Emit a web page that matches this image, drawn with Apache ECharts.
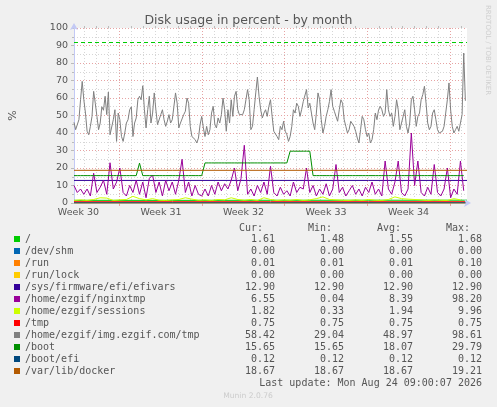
<!DOCTYPE html>
<html>
<head>
<meta charset="utf-8">
<title>Disk usage in percent - by month</title>
<script src="https://cdn.jsdelivr.net/npm/echarts@6/dist/echarts.min.js"></script>
<style>
  html, body { margin: 0; padding: 0; background: #f0f0f0; }
  #chart { width: 497px; height: 407px; }
</style>
</head>
<body>
<div id="chart"></div>
<script>
// time axis is in hours from the left edge of the graph (munin month view)
const spanHours = 800;
const weekStarts = [93, 261, 429, 597, 765];
const weekLabelHours = [9, 177, 345, 513, 681];
const weekLabels = ["Week 30", "Week 31", "Week 32", "Week 33", "Week 34"];
const firstMidnight = 21;

const names = [
  "/", "/dev/shm", "/run", "/run/lock", "/sys/firmware/efi/efivars",
  "/home/ezgif/nginxtmp", "/home/ezgif/sessions", "/tmp",
  "/home/ezgif/img.ezgif.com/tmp", "/boot", "/boot/efi", "/var/lib/docker"
];
const colors = [
  "#00cc00", "#0066b3", "#ff8000", "#ffcc00", "#330099", "#990099",
  "#ccff00", "#ff0000", "#808080", "#008f00", "#00487d", "#b35a00"
];

// legend statistics as printed by munin
const curValues = ["1.61", "0.00", "0.01", "0.00", "12.90", "6.55", "1.82", "0.75", "58.42", "15.65", "0.12", "18.67"];
const minValues = ["1.48", "0.00", "0.01", "0.00", "12.90", "0.04", "0.33", "0.75", "29.04", "15.65", "0.12", "18.67"];
const avgValues = ["1.55", "0.00", "0.01", "0.00", "12.90", "8.39", "1.94", "0.75", "48.97", "18.07", "0.12", "18.67"];
const maxValues = ["1.68", "0.00", "0.10", "0.00", "12.90", "98.20", "9.96", "0.75", "98.61", "29.79", "0.12", "19.21"];

const warningLevel = 92;

// flat-ish series, one value every 200h
const rootValues = [1.52, 1.50, 1.55, 1.58, 1.61];
const devShmValues = [0, 0, 0, 0, 0];
const runValues = [0.01, 0.01, 0.01, 0.01, 0.01];
const runLockValues = [0, 0, 0, 0, 0];
const efivarsValues = [12.9, 12.9, 12.9, 12.9, 12.9];
const tmpValues = [0.75, 0.75, 0.75, 0.75, 0.75];
const bootEfiValues = [0.12, 0.12, 0.12, 0.12, 0.12];
const dockerValues = [18.67, 18.67, 18.67, 18.67, 18.67];

// one value every 20/3 h
const nginxtmpValues = [
  10, 6, 8, 5, 8, 4, 17, 6, 9, 13, 5, 23, 8, 12, 20, 6, 4, 10, 6, 13,
  5, 12, 3, 14, 16, 6, 12, 4, 13, 7, 12, 5, 13, 25, 6, 12, 4, 10, 5, 4,
  8, 4, 10, 5, 12, 7, 11, 8, 13, 20, 7, 14, 33,
  5, 8, 4, 10, 6, 12, 5, 21, 6, 4, 9, 5, 7, 4, 12, 6, 9, 8, 20, 6,
  10, 4, 8, 5, 11, 4, 8, 22, 6, 9, 4, 7, 10, 5, 8, 4, 9, 6, 12, 5,
  8, 4, 24, 8, 5, 12, 24, 6, 4, 8, 40, 10, 24, 6, 4, 9, 5, 22, 6, 4,
  8, 20, 3, 8, 5, 24, 7
];

// one value every 40/3 h
const sessionsValues = [
  1.5, 1.8, 1.5, 2, 3, 2.8, 1.5, 1.8, 2, 3.8, 2.5, 1.8, 2.5, 1.6, 1.5,
  1.8, 2, 3, 2.2, 1.6, 1.8, 1.5, 2, 1.8, 3, 2, 1.6,
  2, 1.5, 3, 2, 1.5, 1.8, 1.6, 2, 1.5, 1.8, 2.5, 3.5, 2, 1.8, 1.6,
  1.5, 1.8, 1.5, 2, 1.6, 1.5, 2, 3.5, 2.5, 2.2, 2, 1.8, 1.5, 1.8, 1.6,
  1.5, 2.5, 1.8
];

// one value every 10/3 h
const imgTmpValues = [
  46.1, 41.9, 41.5, 47.6, 59, 69.5, 59, 51.4, 41, 39,
  43.8, 49.5, 63.8, 57, 49.5, 41.9, 45.7, 55, 53, 61,
  50.5, 63.4, 39, 38, 47.6, 53.3, 35.2, 51.4, 47.6, 38,
  35.2, 40, 45.7, 47.6, 53.3, 55, 38, 45.7, 48.6, 59,
  61, 59, 67, 53.3, 42.9, 53.3, 61, 45.7, 51.4, 62.9,
  53.3, 44.8, 45.7, 50.5, 53.3, 47.6, 43.8, 46.7, 50.5, 45.7,
  47.6, 55, 62.9, 57, 42.9, 45.7, 46.7, 50.5, 52.4, 60,
  57, 43.8, 38, 39, 36.2, 34.3, 37.1, 44.8, 49.5, 42.9,
  38, 43.8, 39, 41.9, 51.4, 55.2, 44.8, 42.9, 48.6, 45.7,
  50.5, 60, 53.3, 41, 53.3, 45.7, 59, 49.5, 61, 63.8,
  53.3, 50.5, 51.4, 50.5, 53.3,
  59, 64.8, 59, 41.9, 43.8, 53.3, 62.9, 72, 61, 53.3,
  48.6, 51.4, 53.3, 49.5, 55.2, 59, 49.5, 41, 40, 38,
  36.2, 43.8, 41.9, 46.7, 41, 39, 35.2, 38, 43.8, 53.3,
  51.4, 57, 55.2, 49.5, 53.3, 58, 59, 64.8, 54.3, 57,
  51.4, 45.7, 41.9, 51.4, 62.9, 59, 47.6, 40, 43.8, 49.5,
  53.3, 58, 64.8, 55.2, 52.4, 49.5, 46.7, 53.3, 59, 57,
  47.6, 43.8, 40, 41.9, 46.7, 47.6, 43.8, 41, 37.1, 34.3,
  41.9, 49.5, 47.6, 41.9, 38, 40, 34.3, 36.2, 41.9, 51.4,
  47.6, 53.3, 55.2, 53.3, 49.5, 51.4, 64.8, 53.3, 49.5, 51.4,
  43.8, 49.5, 59, 53.3, 41.9, 45.7, 49.5, 53.3, 43.8, 40,
  45.7, 59, 61, 53.3, 43.8, 49.5, 51.4, 59, 61.9, 66.7,
  57, 45.7, 41.9, 43.8, 51.4, 53.3, 47.6, 41.9, 40, 39,
  41, 43.8, 51.4, 59, 68.6, 53.3, 43.8, 40, 41.9, 43.8,
  41, 45.7, 50.5, 85.7, 58.4
];

// one value every 20/3 h
const bootValues = [
  15.65, 15.65, 15.65, 15.65, 15.65, 15.65, 15.65, 15.65, 15.65, 15.65,
  15.65, 15.65, 15.65, 15.65, 15.65, 15.65, 15.65, 15.65, 15.65, 15.65,
  22.8,
  15.65, 15.65, 15.65, 15.65, 15.65, 15.65, 15.65, 15.65, 15.65, 15.65,
  15.65, 15.65, 15.65, 15.65, 15.65, 15.65, 15.65, 15.65, 15.65,
  22.9, 22.9, 22.9, 22.9, 22.9, 22.9, 22.9, 22.9, 22.9, 22.9, 22.9, 22.9, 22.9,
  22.9, 22.9, 22.9, 22.9, 22.9, 22.9, 22.9, 22.9, 22.9, 22.9, 22.9, 22.9, 22.9,
  29.6, 29.6, 29.6, 29.6, 29.6, 29.6, 29.6,
  15.65, 15.65, 15.65, 15.65, 15.65, 15.65, 15.65, 15.65, 15.65, 15.65,
  15.65, 15.65, 15.65, 15.65, 15.65, 15.65, 15.65, 15.65, 15.65, 15.65,
  15.65, 15.65, 15.65, 15.65, 15.65, 15.65, 15.65, 15.65, 15.65, 15.65,
  15.65, 15.65, 15.65, 15.65, 15.65, 15.65, 15.65, 15.65, 15.65, 15.65,
  15.65, 15.65, 15.65, 15.65, 15.65, 15.65, 15.65
];

const seriesValues = [
  rootValues, devShmValues, runValues, runLockValues, efivarsValues,
  nginxtmpValues, sessionsValues, tmpValues, imgTmpValues, bootValues,
  bootEfiValues, dockerValues
];
const seriesSteps = [200, 200, 200, 200, 200, 20 / 3, 40 / 3, 200, 10 / 3, 20 / 3, 200, 200];

const dayLines = [];
for (let h = firstMidnight; h < spanHours; h += 24) {
  if (weekStarts.indexOf(h) < 0) dayLines.push(h);
}

const textColor = "#555";
const axisColor = "#c3c9f5";
const majorGrid = "#e6a3a3";
const minorGrid = "#d6d6d6";
const mono = '"DejaVu Sans Mono", monospace';
const sans = '"DejaVu Sans", sans-serif';

const series = names.map((name, i) => {
  const s = {
    name: name,
    type: "line",
    xAxisIndex: 0,
    data: seriesValues[i].map((v, k) => [k * seriesSteps[i], v]),
    symbol: "none",
    showSymbol: false,
    lineStyle: { color: colors[i], width: 1 },
    itemStyle: { color: colors[i] },
    clip: true,
  };
  if (i === 0) {
    s.markLine = {
      silent: true,
      symbol: ["none", "none"],
      label: { show: false },
      lineStyle: { color: "#00cc00", type: [4, 3], width: 1 },
      data: [{ yAxis: warningLevel }],
    };
  }
  return s;
});

const rowTop = 239.3;
const rowStep = 12;
const statCols = [
  { x: 275, head: "Cur:", vals: curValues },
  { x: 344, head: "Min:", vals: minValues },
  { x: 413, head: "Avg:", vals: avgValues },
  { x: 482, head: "Max:", vals: maxValues },
];
const graphics = [];
statCols.forEach(col => {
  graphics.push({
    type: "text",
    style: { text: col.head + "  ", x: col.x, y: 228, textAlign: "right", textVerticalAlign: "middle", font: "10px " + mono, fill: textColor },
  });
  col.vals.forEach((v, i) => {
    graphics.push({
      type: "text",
      style: { text: v, x: col.x, y: rowTop + i * rowStep, textAlign: "right", textVerticalAlign: "middle", font: "10px " + mono, fill: textColor },
    });
  });
});
graphics.push({
  type: "text",
  style: { text: "Last update: Mon Aug 24 09:00:07 2026", x: 482, y: 383, textAlign: "right", textVerticalAlign: "middle", font: "10px " + mono, fill: textColor },
});
graphics.push({
  type: "text",
  style: { text: "Munin 2.0.76", x: 248, y: 396, textAlign: "center", textVerticalAlign: "middle", font: "7.6px " + sans, fill: "#cccccc" },
});
graphics.push({
  type: "text",
  x: 488,
  y: 5,
  rotation: -Math.PI / 2,
  style: { text: "RRDTOOL / TOBI OETIKER", x: 0, y: 0, textAlign: "left", textVerticalAlign: "middle", font: "7px " + sans, fill: "#cfcfcf" },
});

const chart = echarts.init(document.getElementById("chart"));
chart.setOption({
  animation: false,
  backgroundColor: "#f0f0f0",
  title: {
    text: "Disk usage in percent - by month",
    left: "center",
    top: 9,
    textStyle: { fontFamily: sans, fontSize: 12.5, fontWeight: "normal", color: textColor },
  },
  grid: {
    left: 67, top: 28, width: 400, height: 175,
    show: true, backgroundColor: "#ffffff", borderWidth: 0,
  },
  legend: {
    orient: "vertical",
    left: 14,
    top: 233,
    itemWidth: 6,
    itemHeight: 6,
    itemGap: 0,
    icon: "rect",
    selectedMode: false,
    padding: 0,
    textStyle: { fontFamily: mono, fontSize: 10, color: textColor, lineHeight: 12 },
    data: names,
  },
  xAxis: [
    {
      type: "value",
      min: 0,
      max: spanHours,
      axisLine: { show: true, lineStyle: { color: axisColor }, symbol: ["none", "arrow"], symbolSize: [6, 7], symbolOffset: [0, 4] },
      axisTick: { show: true, customValues: weekStarts, length: 3, lineStyle: { color: majorGrid } },
      axisLabel: {
        customValues: weekLabelHours,
        formatter: v => weekLabels[weekLabelHours.indexOf(v)],
        fontFamily: sans, fontSize: 9.5, color: textColor, margin: 5,
      },
      splitLine: { show: true, lineStyle: { color: majorGrid, type: [1, 2] } },
      z: 3,
    },
    {
      type: "value",
      min: 0,
      max: spanHours,
      axisLine: { show: false },
      axisTick: { show: true, customValues: dayLines, length: 2, lineStyle: { color: "#bbbbbb" } },
      axisLabel: { show: false },
      splitLine: { show: true, lineStyle: { color: minorGrid, type: [1, 2] } },
      z: 1,
    },
  ],
  yAxis: {
    type: "value",
    min: 0,
    max: 100,
    interval: 10,
    name: "%",
    nameLocation: "middle",
    nameGap: 55,
    nameRotate: 90,
    nameTextStyle: { fontFamily: sans, fontSize: 11, color: textColor },
    axisLine: { show: true, lineStyle: { color: axisColor }, symbol: ["none", "arrow"], symbolSize: [6, 7], symbolOffset: [0, 5] },
    axisTick: { show: true, length: 3, lineStyle: { color: "#bbbbbb" } },
    minorTick: { show: true, splitNumber: 2, length: 2, lineStyle: { color: "#bbbbbb" } },
    axisLabel: { fontFamily: sans, fontSize: 9.5, color: textColor, margin: 6 },
    splitLine: { show: true, lineStyle: { color: majorGrid, type: [1, 2] } },
    minorSplitLine: { show: true, lineStyle: { color: minorGrid, type: [1, 2] } },
  },
  series: series,
  graphic: graphics,
});
</script>
</body>
</html>
